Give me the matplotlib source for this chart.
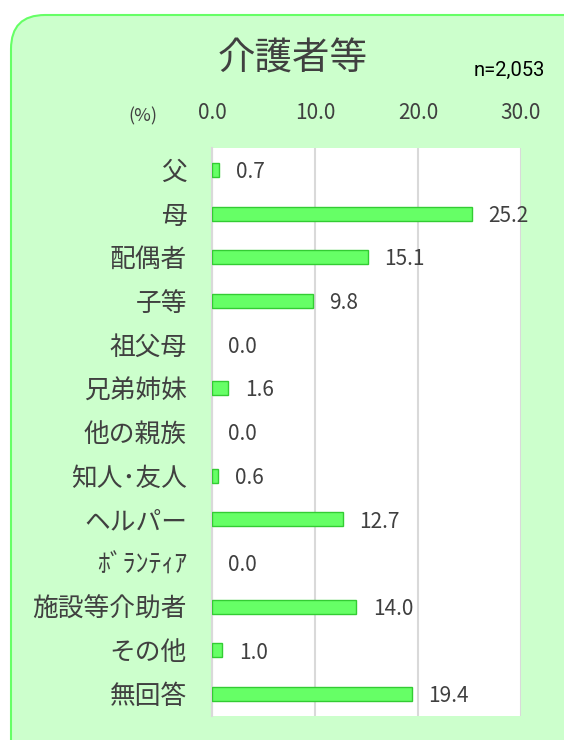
import matplotlib
matplotlib.use("Agg")
import matplotlib.pyplot as plt
from matplotlib.patches import FancyBboxPatch

plt.rcParams['font.family'] = ['Noto Sans CJK JP', 'DejaVu Sans']

title = "介護者等"
n_label = "n=2,053"
categories = ["父", "母", "配偶者", "子等", "祖父母", "兄弟姉妹", "他の親族",
              "知人･友人", "ヘルパー", "ﾎﾞﾗﾝﾃｨｱ", "施設等介助者", "その他", "無回答"]
values = [0.7, 25.2, 15.1, 9.8, 0.0, 1.6, 0.0, 0.6, 12.7, 0.0, 14.0, 1.0, 19.4]
xticks = [0, 10, 20, 30]
xtick_labels = ["0.0", "10.0", "20.0", "30.0"]

W, H = 564, 740
fig = plt.figure(figsize=(W / 100, H / 100), dpi=100)
fig.patch.set_facecolor("white")

# background panel in pixel coordinates
bg = fig.add_axes([0, 0, 1, 1], zorder=0)
bg.set_xlim(0, W)
bg.set_ylim(H, 0)
bg.axis("off")
box = FancyBboxPatch((11, 15), 620, 780, boxstyle="round,pad=0,rounding_size=34",
                     facecolor="#CCFFCC", edgecolor="#66FF66", linewidth=1.5)
bg.add_patch(box)
bg.text(293, 59, title, ha="center", va="center", fontsize=27, color="#404040")
bg.text(509, 70, n_label, ha="center", va="center", fontsize=14.5, color="black",
        family=["Liberation Sans Narrow", "Roboto", "DejaVu Sans"])
bg.text(143, 116, "(%)", ha="center", va="center", fontsize=13, color="#404040")

ax = fig.add_axes([212 / W, 1 - 716 / H, (521 - 212) / W, (716 - 148) / H], zorder=1)
ax.set_facecolor("white")
y = list(range(len(categories)))
lws = [1.0 if v > 0 else 0 for v in values]
ax.barh(y, values, height=0.32, color="#66FF66", edgecolor="#33CC33", linewidth=lws, zorder=3)
for yi, v in zip(y, values):
    ax.text(v + 1.6, yi + 0.05, f"{v:.1f}", va="center", ha="left", fontsize=15, color="#404040")

ax.set_xlim(0, 30)
ax.set_ylim(len(categories) - 0.5, -0.5)
ax.set_yticks(y)
ax.set_yticklabels(categories, fontsize=18.5, color="#404040")
ax.set_xticks(xticks)
ax.set_xticklabels(xtick_labels, fontsize=15, color="#404040")
ax.xaxis.tick_top()
ax.tick_params(axis="x", length=0, pad=17)
ax.tick_params(axis="y", length=0, pad=18)
ax.grid(axis="x", color="#D9D9D9", linewidth=1.5, zorder=0)
for s in ["top", "bottom", "right"]:
    ax.spines[s].set_visible(False)
ax.spines["left"].set_color("#D9D9D9")
ax.spines["left"].set_linewidth(1.5)

fig.savefig("out.png", dpi=100)
